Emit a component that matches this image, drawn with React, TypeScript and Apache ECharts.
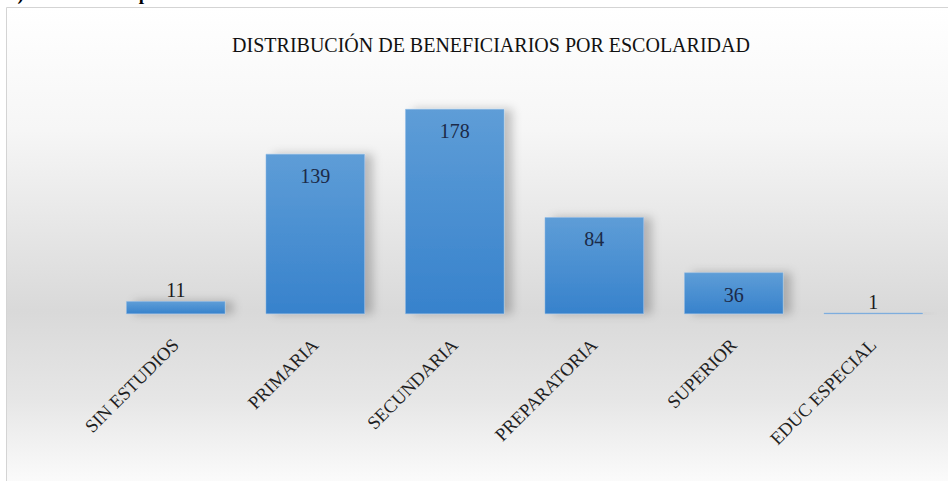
import React, { useEffect, useRef } from "react";
import * as echarts from "echarts";

const categories = ["SIN ESTUDIOS", "PRIMARIA", "SECUNDARIA", "PREPARATORIA", "SUPERIOR", "EDUC ESPECIAL"];
const values = [11, 139, 178, 84, 36, 1];
const insideLabel = [false, true, true, true, true, false];
const titleText = "DISTRIBUCIÓN DE BENEFICIARIOS POR ESCOLARIDAD";
const headingText = "3) Beneficiarios por nivel de escolaridad";

const SERIF = '"Liberation Serif", "DejaVu Serif", serif';

export default function App() {
  const ref = useRef<HTMLDivElement>(null);
  useEffect(() => {
    if (!ref.current) return;
    const chart = echarts.init(ref.current, undefined, { renderer: "svg" });
    const barColor = new echarts.graphic.LinearGradient(0, 0, 0, 1, [
      { offset: 0, color: "#5e9dd7" },
      { offset: 1, color: "#3782cc" },
    ]);
    chart.setOption({
      animation: false,
      backgroundColor: "#ffffff",
      graphic: [
        {
          type: "rect",
          z: -10,
          silent: true,
          shape: { x: 6.5, y: 7.5, width: 960, height: 490 },
          style: {
            fill: new echarts.graphic.LinearGradient(0, 0, 0, 1, [
              { offset: 0, color: "#ffffff" },
              { offset: 0.25, color: "#f6f6f6" },
              { offset: 0.62, color: "#d9d9d9" },
              { offset: 0.8, color: "#e6e6e6" },
              { offset: 0.97, color: "#fbfbfb" },
              { offset: 1, color: "#ffffff" },
            ]),
            stroke: "#d4d4d4",
            lineWidth: 1,
          },
        },
        {
          type: "text",
          z: 10,
          x: 8,
          y: 3,
          style: {
            text: headingText,
            fill: "#000000",
            font: "bold 19px " + SERIF,
            textVerticalAlign: "bottom",
          },
        },
      ],
      title: {
        text: titleText,
        left: 486,
        top: 30,
        textAlign: "center",
        textStyle: {
          fontFamily: SERIF,
          fontSize: 20,
          fontWeight: "normal",
          color: "#111111",
        },
      },
      grid: { left: 106, right: 5, top: 109, bottom: 167, containLabel: false },
      xAxis: {
        type: "category",
        data: categories,
        axisLine: { show: false },
        axisTick: { show: false },
        axisLabel: {
          rotate: 45,
          margin: 28,
          interval: 0,
          fontFamily: SERIF,
          fontSize: 18.5,
          color: "#1f1f1f",
        },
      },
      yAxis: {
        type: "value",
        min: 0,
        max: 178,
        show: false,
        splitLine: { show: false },
      },
      series: [
        {
          type: "bar",
          barCategoryGap: "29%",
          data: values.map((v, i) => ({
            value: v,
            label: insideLabel[i]
              ? { position: "insideTop", distance: 12, color: "#1c2a48" }
              : { position: "top", distance: 1, color: "#1a1a1a" },
          })),
          itemStyle: {
            color: barColor,
            borderColor: "#8fbbe6",
            borderWidth: 0.5,
            shadowColor: "rgba(0,0,0,0.22)",
            shadowBlur: 10,
            shadowOffsetX: 8,
            shadowOffsetY: 0,
          },
          label: {
            show: true,
            fontFamily: SERIF,
            fontSize: 20,
          },
        },
      ],
    });
    return () => chart.dispose();
  }, []);
  return (
    <div
      ref={ref}
      style={{ position: "fixed", left: 0, top: 0, width: 948, height: 481 }}
    />
  );
}
